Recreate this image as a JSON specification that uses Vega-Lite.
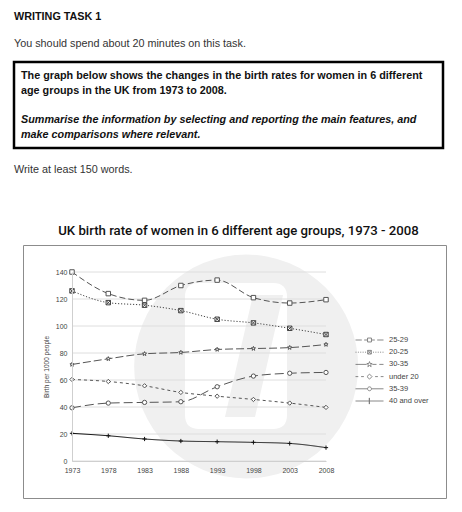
{
  "$schema": "https://vega.github.io/schema/vega-lite/v6.json",
  "background": "white",
  "padding": {"left": 12, "top": 10, "right": 0, "bottom": 0},
  "config": {"view": {"stroke": null}, "font": "Liberation Sans", "title": {"font": "Liberation Sans"}, "axis": {"labelOverlap": false, "labelFlush": false}},
  "datasets": {
    "births": [
      {"year": 1973, "group": "25-29", "rate": 140}, {"year": 1978, "group": "25-29", "rate": 124}, {"year": 1983, "group": "25-29", "rate": 119}, {"year": 1988, "group": "25-29", "rate": 130}, {"year": 1993, "group": "25-29", "rate": 134}, {"year": 1998, "group": "25-29", "rate": 121}, {"year": 2003, "group": "25-29", "rate": 117}, {"year": 2008, "group": "25-29", "rate": 119.5},
      {"year": 1973, "group": "20-25", "rate": 126}, {"year": 1978, "group": "20-25", "rate": 117.3}, {"year": 1983, "group": "20-25", "rate": 115.4}, {"year": 1988, "group": "20-25", "rate": 111.4}, {"year": 1993, "group": "20-25", "rate": 105}, {"year": 1998, "group": "20-25", "rate": 102.3}, {"year": 2003, "group": "20-25", "rate": 98.3}, {"year": 2008, "group": "20-25", "rate": 93.7},
      {"year": 1973, "group": "30-35", "rate": 71.5}, {"year": 1978, "group": "30-35", "rate": 75.7}, {"year": 1983, "group": "30-35", "rate": 79.4}, {"year": 1988, "group": "30-35", "rate": 80.4}, {"year": 1993, "group": "30-35", "rate": 82.6}, {"year": 1998, "group": "30-35", "rate": 83.3}, {"year": 2003, "group": "30-35", "rate": 84}, {"year": 2008, "group": "30-35", "rate": 86.3},
      {"year": 1973, "group": "under 20", "rate": 60.4}, {"year": 1978, "group": "under 20", "rate": 58.9}, {"year": 1983, "group": "under 20", "rate": 55.7}, {"year": 1988, "group": "under 20", "rate": 50.8}, {"year": 1993, "group": "under 20", "rate": 48}, {"year": 1998, "group": "under 20", "rate": 45.6}, {"year": 2003, "group": "under 20", "rate": 42.9}, {"year": 2008, "group": "under 20", "rate": 39.7},
      {"year": 1973, "group": "35-39", "rate": 39.4}, {"year": 1978, "group": "35-39", "rate": 42.9}, {"year": 1983, "group": "35-39", "rate": 43.4}, {"year": 1988, "group": "35-39", "rate": 43.9}, {"year": 1993, "group": "35-39", "rate": 55}, {"year": 1998, "group": "35-39", "rate": 62.9}, {"year": 2003, "group": "35-39", "rate": 65}, {"year": 2008, "group": "35-39", "rate": 65.6},
      {"year": 1973, "group": "40 and over", "rate": 20.5}, {"year": 1978, "group": "40 and over", "rate": 18.7}, {"year": 1983, "group": "40 and over", "rate": 16.3}, {"year": 1988, "group": "40 and over", "rate": 14.8}, {"year": 1993, "group": "40 and over", "rate": 14.3}, {"year": 1998, "group": "40 and over", "rate": 13.8}, {"year": 2003, "group": "40 and over", "rate": 13}, {"year": 2008, "group": "40 and over", "rate": 9.9}
    ],
    "gridlines": [{"tick": 0}, {"tick": 20}, {"tick": 40}, {"tick": 60}, {"tick": 80}, {"tick": 100}, {"tick": 120}, {"tick": 140}]
  },
  "spacing": 14,
  "vconcat": [
    {
      "width": 429,
      "height": 86,
      "view": {"stroke": "black", "strokeWidth": 2.5},
      "title": {
        "text": "WRITING TASK 1",
        "subtitle": "You should spend about 20 minutes on this task.",
        "anchor": "start",
        "frame": "group",
        "fontSize": 10.8,
        "fontWeight": "bold",
        "color": "#111",
        "subtitleFont": "Liberation Sans",
        "subtitleFontSize": 10.8,
        "subtitleColor": "#333",
        "subtitlePadding": 16,
        "offset": 13
      },
      "layer": [
        {
          "data": {"values": [
            {"line": 1, "text": "The graph below shows the changes in the birth rates for women in 6 different"},
            {"line": 2, "text": "age groups in the UK from 1973 to 2008."}
          ]},
          "mark": {"type": "text", "align": "left", "baseline": "alphabetic", "fontWeight": "bold", "fontSize": 10.8, "color": "#111", "dx": 7},
          "encoding": {
            "x": {"datum": 0, "type": "quantitative", "scale": {"domain": [0, 1]}, "axis": null},
            "y": {"field": "line", "type": "quantitative", "scale": {"domain": [-0.16, 5.66], "reverse": true, "nice": false, "zero": false}, "axis": null},
            "text": {"field": "text"}
          }
        },
        {
          "data": {"values": [
            {"line": 4, "text": "Summarise the information by selecting and reporting the main features, and"},
            {"line": 5, "text": "make comparisons where relevant."}
          ]},
          "mark": {"type": "text", "align": "left", "baseline": "alphabetic", "fontWeight": "bold", "fontStyle": "italic", "fontSize": 10.8, "color": "#111", "dx": 7},
          "encoding": {
            "x": {"datum": 0, "type": "quantitative", "scale": {"domain": [0, 1]}, "axis": null},
            "y": {"field": "line", "type": "quantitative", "scale": {"domain": [-0.16, 5.66], "reverse": true, "nice": false, "zero": false}, "axis": null},
            "text": {"field": "text"}
          }
        }
      ]
    },
    {
      "width": 429,
      "height": 30,
      "title": {"text": "Write at least 150 words.", "anchor": "start", "frame": "group", "fontSize": 10.8, "fontWeight": "normal", "color": "#333", "offset": 4},
      "data": {"values": []},
      "mark": "text",
      "encoding": {}
    },
    {
      "spacing": 7,
      "hconcat": [
        {"width": 1, "height": 1, "data": {"values": []}, "mark": "text", "encoding": {}},
        {
          "width": 423,
          "height": 253,
          "view": {"stroke": "#8c8c8c", "strokeWidth": 1},
          "title": {"text": "UK birth rate of women in 6 different age groups, 1973 - 2008", "anchor": "middle", "font": "Roboto", "fontWeight": 500, "fontSize": 13.2, "color": "#111", "offset": 7, "dx": 4},
          "layer": [
            {
              "data": {"values": [{"label": "watermark"}]},
              "mark": {"type": "circle", "color": "#f0f0f0", "opacity": 1, "size": 50176},
              "encoding": {
                "x": {"datum": 1997, "type": "quantitative"},
                "y": {"datum": 70, "type": "quantitative", "axis": {"values": [0, 20, 40, 60, 80, 100, 120, 140], "ticks": false, "grid": false, "domainColor": "#cfcfcf", "labelFontSize": 7, "labelColor": "#444", "labelPadding": 5, "labelOverlap": false, "offset": -49, "title": "Birth per 1000 people", "titleFontSize": 6.5, "titleFontWeight": "normal", "titleColor": "#444", "titlePadding": 6, "zindex": 1}}
              }
            },
            {
              "data": {"values": [{"label": "watermark logo"}]},
              "mark": {"type": "point", "filled": true, "fill": "white", "strokeWidth": 0, "opacity": 1, "size": 22500, "shape": "M-0.493,-0.973H0.493Q0.68,-0.973,0.68,-0.787V0.787Q0.68,0.973,0.493,0.973H-0.493Q-0.68,0.973,-0.68,0.787V-0.787Q-0.68,-0.973,-0.493,-0.973Z"},
              "encoding": {
                "x": {"datum": 1995.6, "type": "quantitative"},
                "y": {"datum": 77.8, "type": "quantitative", "axis": {"values": [0, 20, 40, 60, 80, 100, 120, 140], "ticks": false, "grid": false, "domainColor": "#cfcfcf", "labelFontSize": 7, "labelColor": "#444", "labelPadding": 5, "labelOverlap": false, "offset": -49, "title": "Birth per 1000 people", "titleFontSize": 6.5, "titleFontWeight": "normal", "titleColor": "#444", "titlePadding": 6, "zindex": 1}}
              }
            },
            {
              "data": {"values": [{"label": "watermark slash"}]},
              "mark": {"type": "point", "filled": true, "fill": "#f0f0f0", "strokeWidth": 0, "opacity": 1, "size": 22500, "shape": "M0.227,-0.813L0.627,-0.813L0.253,0.813L-0.147,0.813Z"},
              "encoding": {
                "x": {"datum": 1995.6, "type": "quantitative"},
                "y": {"datum": 77.8, "type": "quantitative", "axis": {"values": [0, 20, 40, 60, 80, 100, 120, 140], "ticks": false, "grid": false, "domainColor": "#cfcfcf", "labelFontSize": 7, "labelColor": "#444", "labelPadding": 5, "labelOverlap": false, "offset": -49, "title": "Birth per 1000 people", "titleFontSize": 6.5, "titleFontWeight": "normal", "titleColor": "#444", "titlePadding": 6, "zindex": 1}}
              }
            },
            {
              "data": {"name": "gridlines"},
              "mark": {"type": "rule", "color": "#dedede", "strokeWidth": 1},
              "encoding": {
                "x": {"datum": 1973, "type": "quantitative"},
                "x2": {"datum": 2008},
                "y": {"field": "tick", "type": "quantitative", "axis": {"values": [0, 20, 40, 60, 80, 100, 120, 140], "ticks": false, "grid": false, "domainColor": "#cfcfcf", "labelFontSize": 7, "labelColor": "#444", "labelPadding": 5, "labelOverlap": false, "offset": -49, "title": "Birth per 1000 people", "titleFontSize": 6.5, "titleFontWeight": "normal", "titleColor": "#444", "titlePadding": 6, "zindex": 1}}
              }
            },
            {
              "data": {"name": "births"},
              "mark": {"type": "line", "interpolate": "monotone", "strokeWidth": 1},
              "encoding": {
                "x": {
                  "field": "year", "type": "quantitative",
                  "scale": {"domain": [1973, 2008], "range": [49, 303], "nice": false, "zero": false},
                  "axis": {"values": [1973, 1978, 1983, 1988, 1993, 1998, 2003, 2008], "format": "d", "ticks": false, "grid": false, "domainColor": "#cfcfcf", "labelFontSize": 7, "labelColor": "#444", "labelPadding": 5, "labelFlush": false, "labelOverlap": false, "offset": -37, "title": null, "zindex": 1}
                },
                "y": {
                  "field": "rate", "type": "quantitative",
                  "scale": {"domain": [0, 140], "range": [216, 27], "nice": false, "zero": false},
                  "axis": {"values": [0, 20, 40, 60, 80, 100, 120, 140], "ticks": false, "grid": false, "domainColor": "#cfcfcf", "labelFontSize": 7, "labelColor": "#444", "labelPadding": 5, "labelOverlap": false, "offset": -49, "title": "Birth per 1000 people", "titleFontSize": 6.5, "titleFontWeight": "normal", "titleColor": "#444", "titlePadding": 6, "zindex": 1}
                },
                "stroke": {"field": "group", "type": "nominal", "scale": {"domain": ["25-29", "20-25", "30-35", "under 20", "35-39", "40 and over"], "range": ["#555", "#444", "#555", "#555", "#555", "#111"]}, "legend": null},
                "strokeDash": {"field": "group", "type": "nominal", "scale": {"domain": ["25-29", "20-25", "30-35", "under 20", "35-39", "40 and over"], "range": [[6, 3], [1.2, 1.8], [8, 3], [3, 3], [9, 4], [1, 0]]}, "legend": null}
              }
            },
            {
              "data": {"name": "births"},
              "mark": {"type": "point", "filled": true, "fill": "white", "strokeWidth": 1, "opacity": 1},
              "encoding": {
                "x": {"field": "year", "type": "quantitative"},
                "y": {"field": "rate", "type": "quantitative", "axis": {"values": [0, 20, 40, 60, 80, 100, 120, 140], "ticks": false, "grid": false, "domainColor": "#cfcfcf", "labelFontSize": 7, "labelColor": "#444", "labelPadding": 5, "labelOverlap": false, "offset": -49, "title": "Birth per 1000 people", "titleFontSize": 6.5, "titleFontWeight": "normal", "titleColor": "#444", "titlePadding": 6, "zindex": 1}},
                "stroke": {"field": "group", "type": "nominal", "legend": null},
                "shape": {"field": "group", "type": "nominal", "scale": {"domain": ["25-29", "20-25", "30-35", "under 20", "35-39", "40 and over"], "range": ["square", "M-1,-1H1V1H-1ZM-1,-1L1,1M1,-1L-1,1", "M0,-1L0.235,-0.324L0.951,-0.309L0.38,0.124L0.588,0.809L0,0.4L-0.588,0.809L-0.38,0.124L-0.951,-0.309L-0.235,-0.324Z", "diamond", "circle", "M-1,0H1M0,-1V1"]}, "legend": null},
                "size": {"field": "group", "type": "nominal", "scale": {"domain": ["25-29", "20-25", "30-35", "under 20", "35-39", "40 and over"], "range": [20, 18, 40, 22, 18, 40]}, "legend": null}
              }
            },
            {
              "data": {"values": []},
              "mark": {"type": "point", "filled": false, "color": "#444", "strokeWidth": 0.9},
              "encoding": {
                "shape": {
                  "field": "group", "type": "nominal",
                  "scale": {"domain": ["25-29", "20-25", "30-35", "under 20", "35-39", "40 and over"], "range": [
                    "M-1,0H-0.55M-0.38,0H-0.14M0.14,0H0.38M0.55,0H1M-0.14,-0.14H0.14V0.14H-0.14Z",
                    "M-1,0H-0.93M-0.83,0H-0.76M-0.66,0H-0.59M-0.49,0H-0.42M-0.32,0H-0.25M0.25,0H0.32M0.42,0H0.49M0.59,0H0.66M0.76,0H0.83M0.93,0H1M-0.13,-0.13H0.13V0.13H-0.13ZM-0.13,-0.13L0.13,0.13M0.13,-0.13L-0.13,0.13",
                    "M-1,0H-0.2M0.2,0H0.5M0.7,0H1M0,-0.2L0.047,-0.065L0.19,-0.062L0.076,0.025L0.118,0.162L0,0.08L-0.118,0.162L-0.076,0.025L-0.19,-0.062L-0.047,-0.065Z",
                    "M-1,0H-0.8M-0.6,0H-0.4M0.4,0H0.6M0.8,0H1M0,-0.18L0.18,0L0,0.18L-0.18,0Z",
                    "M-1,0H-0.14M0.14,0H1M0.14,0A0.14,0.14,0,1,1,-0.14,0A0.14,0.14,0,1,1,0.14,0Z",
                    "M-1,0H1M0,-0.22V0.22M-0.02,-0.22V0.22"
                  ]},
                  "legend": {"title": null, "orient": "none", "legendX": 332, "legendY": 90, "symbolSize": 784, "clipHeight": 10, "rowPadding": 2.2, "labelFontSize": 7.5, "labelColor": "#444", "labelOffset": 5, "symbolStrokeWidth": 0.9, "symbolStrokeColor": "#444", "padding": 0}
                }
              }
            }
          ],
          "resolve": {"scale": {"shape": "independent"}}
        }
      ]
    }
  ]
}
